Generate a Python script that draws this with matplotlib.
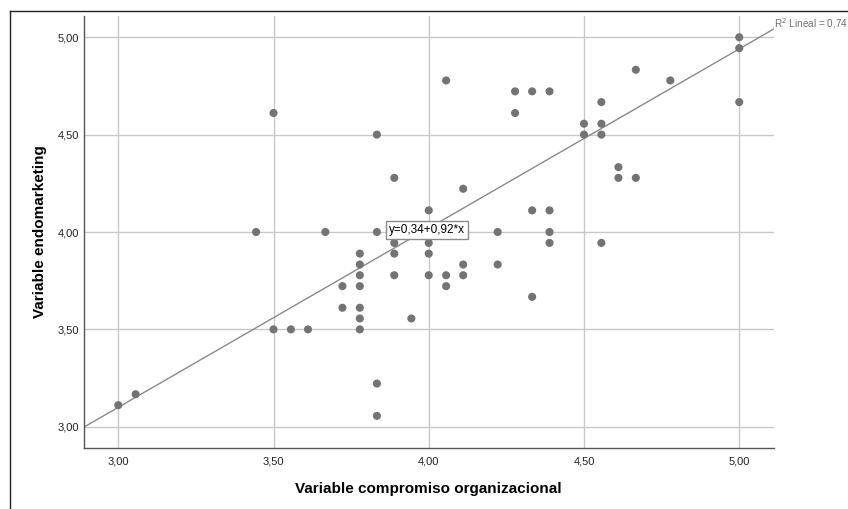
import matplotlib
matplotlib.use("Agg")
import matplotlib.pyplot as plt
from matplotlib.ticker import FuncFormatter
from matplotlib.lines import Line2D
import numpy as np

plt.rcParams['font.family'] = ['Liberation Sans', 'DejaVu Sans']

compromiso = [3.000, 3.056, 3.444, 3.500, 3.500, 3.556, 3.611, 3.667, 3.722, 3.722,
              3.778, 3.778, 3.778, 3.778, 3.778, 3.778, 3.778, 3.833, 3.833, 3.833,
              3.833, 3.889, 3.889, 3.889, 3.889, 3.944, 4.000, 4.000, 4.000, 4.000,
              4.056, 4.056, 4.056, 4.111, 4.111, 4.111, 4.222, 4.222, 4.278, 4.278,
              4.333, 4.333, 4.333, 4.389, 4.389, 4.389, 4.389, 4.500, 4.500, 4.556,
              4.556, 4.556, 4.556, 4.611, 4.611, 4.667, 4.667, 4.778, 5.000, 5.000,
              5.000]
endomarketing = [3.111, 3.167, 4.000, 4.611, 3.500, 3.500, 3.500, 4.000, 3.722, 3.611,
                 3.889, 3.833, 3.778, 3.722, 3.611, 3.556, 3.500, 4.500, 4.000, 3.222,
                 3.056, 4.278, 3.944, 3.889, 3.778, 3.556, 4.111, 3.944, 3.889, 3.778,
                 4.778, 3.778, 3.722, 4.222, 3.833, 3.778, 4.000, 3.833, 4.722, 4.611,
                 4.722, 4.111, 3.667, 4.722, 4.111, 4.000, 3.944, 4.556, 4.500, 4.667,
                 4.556, 4.500, 3.944, 4.333, 4.278, 4.833, 4.278, 4.778, 5.000, 4.944,
                 4.667]
intercept = 0.34
slope = 0.92
ticks = [3.0, 3.5, 4.0, 4.5, 5.0]

W, H = 848, 509
fig = plt.figure(figsize=(W / 100, H / 100), dpi=100)
ax = fig.add_axes([83.5 / W, 1 - 448 / H, (774 - 83.5) / W, (448 - 16) / H])

xmin, xmax = 2.888, 5.112
ymin, ymax = 2.891, 5.109
ax.set_xlim(xmin, xmax)
ax.set_ylim(ymin, ymax)
ax.set_xticks(ticks)
ax.set_yticks(ticks)
fmt = FuncFormatter(lambda v, p: f"{v:.2f}".replace('.', ','))
ax.xaxis.set_major_formatter(fmt)
ax.yaxis.set_major_formatter(fmt)
ax.grid(True, color='#c8c8c8', linewidth=1.0)
ax.set_axisbelow(True)
ax.tick_params(length=0, labelsize=8, colors='#222222')
ax.tick_params(axis='x', pad=6)
ax.tick_params(axis='y', pad=3.5)
for s in ['top', 'right']:
    ax.spines[s].set_visible(False)
for s in ['left', 'bottom']:
    ax.spines[s].set_color('#555555')
    ax.spines[s].set_linewidth(1.0)

ax.scatter(compromiso, endomarketing, s=34, color='#737373', edgecolors='none', zorder=3)

xs = np.array([xmin, xmax])
ax.plot(xs, intercept + slope * xs, color='#8a8a8a', linewidth=1.0, zorder=2)

ax.text(3.995, 4.01, "y=0,34+0,92*x", fontsize=8.5, ha='center', va='center', zorder=4,
        bbox=dict(boxstyle='square,pad=0.25', facecolor='white', edgecolor='#8a8a8a', linewidth=1.0))
fig.text(774 / W, 1 - 24 / H, "R$^2$ Lineal = 0,74", fontsize=7.2, color='#707070',
         ha='left', va='center')

ax.set_xlabel("Variable compromiso organizacional", fontsize=11, fontweight='bold', labelpad=11)
ax.set_ylabel("Variable endomarketing", fontsize=11, fontweight='bold', labelpad=7.5)

fig.add_artist(Line2D([10 / W, 10 / W], [0, 1 - 11 / H], transform=fig.transFigure, color='#222222', linewidth=1.0))
fig.add_artist(Line2D([10 / W, 1], [1 - 11 / H, 1 - 11 / H], transform=fig.transFigure, color='#222222', linewidth=1.0))

fig.savefig("out.png", dpi=100)
